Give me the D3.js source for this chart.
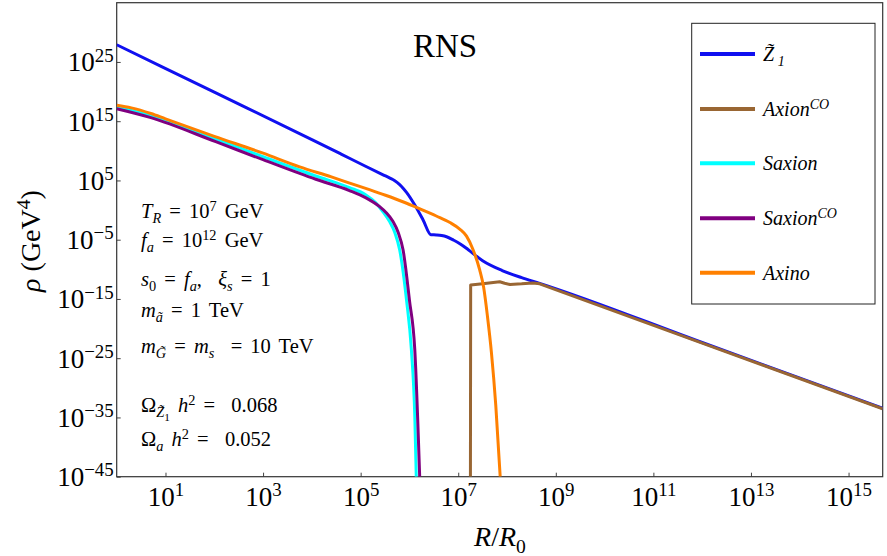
<!DOCTYPE html>
<html>
<head>
<meta charset="utf-8">
<script src="https://cdn.jsdelivr.net/npm/d3@7"></script>
<style>
body { margin: 0; background: #fff; }
svg { display: block; }
text { font-family: "Liberation Serif", "Times New Roman", serif; fill: #000; }
</style>
</head>
<body>
<svg id="chart" width="887" height="556"></svg>
<script>
// values, as log10(R/R0) and log10(rho / GeV^4)
var z1LogR   = [0, 2, 4, 4.6, 5.1, 5.46, 5.6, 5.7, 5.8, 5.87, 5.94, 6.11, 6.28, 6.44, 6.55, 6.66, 6.76, 6.9, 7.05, 7.2, 7.5, 7.9, 8.3, 8.67, 12, 15.7];
var z1LogRho = [27.9, 19.9, 11.9, 9.45, 7.4, 5.95, 5.4, 4.95, 4.3, 3.7, 3.0, 0.86, -1.67, -4.15, -4.2, -4.3, -4.5, -5.05, -5.75, -6.65, -8.55, -10.2, -11.4, -12.36, -22.35, -33.45];

var axionLogR   = [7.25, 7.255, 7.5, 7.85, 7.95, 8.06, 8.3, 8.53, 8.67, 12, 15.7];
var axionLogRho = [-45, -12.65, -12.45, -12.1, -12.35, -12.55, -12.45, -12.3, -12.45, -22.45, -33.55];

var saxionLogR   = [0, 0.7, 2.03, 3, 4.08, 4.77, 5.1, 5.3, 5.45, 5.59, 5.7, 5.8, 5.94, 6.04, 6.11, 6.14];
var saxionLogRho = [17.4, 15.95, 12.0, 9.0, 5.75, 3.8, 2.6, 1.3, -0.2, -1.9, -3.8, -6.74, -15.2, -23.6, -34.9, -45];

var saxionCOLogR   = [0, 0.7, 2.03, 3, 4.08, 4.77, 5.1, 5.39, 5.52, 5.66, 5.77, 5.87, 6.0, 6.11, 6.21];
var saxionCOLogRho = [17.1, 15.6, 11.54, 8.5, 5.2, 3.3, 2.1, 0.57, -0.4, -1.9, -3.8, -6.74, -15.2, -23.6, -45];

var axinoLogR   = [0, 0.3, 0.7, 1, 2, 3, 3.75, 4.4, 4.76, 5.18, 5.51, 5.85, 6.14, 6.55, 6.83, 7.03, 7.17, 7.3, 7.44, 7.52, 7.6, 7.68, 7.77, 7.86];
var axinoLogRho = [17.7, 17.25, 16.3, 15.4, 12.45, 9.6, 7.3, 5.6, 4.6, 3.45, 2.5, 1.45, 0.45, -1.0, -2.1, -3.2, -4.4, -6.6, -10.1, -13.0, -18.0, -24, -33, -45];

var seriesNames  = ["Z1", "AxionCO", "Saxion", "SaxionCO", "Axino"];
var seriesColors = ["#1010f0", "#996633", "#00ffff", "#800080", "#ff8000"];

var xTickExps = [1, 3, 5, 7, 9, 11, 13, 15];
var yTickExps = [-45, -35, -25, -15, -5, 5, 15, 25];

var svg = d3.select("#chart");
var plotL = 116.7, plotR = 882.7, plotT = 2.7, plotB = 476.7;

var x = d3.scaleLog().domain([1, Math.pow(10, 15.7)]).range([plotL, plotR]);
var y = d3.scaleLog().domain([1e-45, 1e35]).range([plotB, plotT]);

// text with sub / superscripts: parts are [text, italic, level]
function richText(sel, parts, size) {
    var shift = 0;
    parts.forEach(function(p) {
        var level = p[2] || 0;
        var target = level == 1 ? -0.36 * size : level == -1 ? 0.25 * size : level == -2 ? 0.45 * size : 0;
        var fs = level == 0 ? size : level == -2 ? size * 0.55 : size * 0.7;
        sel.append("tspan")
            .attr("dy", target - shift)
            .attr("font-size", fs)
            .attr("font-style", p[1] ? "italic" : "normal")
            .text(p[0]);
        shift = target;
    });
}
function expLabel(e) {
    return String(e).replace("-", "\u2212");
}

svg.append("clipPath").attr("id", "plotClip")
    .append("rect").attr("x", plotL).attr("y", plotT).attr("width", plotR - plotL).attr("height", plotB - plotT);

// axes
var xAxis = svg.append("g").attr("transform", "translate(0," + plotB + ")")
    .call(d3.axisBottom(x).tickValues(xTickExps.map(function(e) { return Math.pow(10, e); }))
        .tickSizeInner(-4).tickSizeOuter(0).tickFormat(""));
xAxis.select(".domain").remove();
xAxis.selectAll(".tick line").attr("stroke", "#444");
xAxis.selectAll(".tick text").remove();
xAxis.selectAll(".tick").each(function(d) {
    var t = d3.select(this).append("text").attr("y", 29).attr("text-anchor", "middle");
    richText(t, [["10", false, 0], [expLabel(Math.round(Math.log10(d))), false, 1]], 27);
});

var yAxis = svg.append("g").attr("transform", "translate(" + plotL + ",0)")
    .call(d3.axisLeft(y).tickValues(yTickExps.map(function(e) { return Math.pow(10, e); }))
        .tickSizeInner(-4).tickSizeOuter(0).tickFormat(""));
yAxis.select(".domain").remove();
yAxis.selectAll(".tick line").attr("stroke", "#444");
yAxis.selectAll(".tick text").remove();
yAxis.selectAll(".tick").each(function(d) {
    var t = d3.select(this).append("text").attr("x", -3).attr("y", 9).attr("text-anchor", "end");
    richText(t, [["10", false, 0], [expLabel(Math.round(Math.log10(d))), false, 1]], 27);
});

svg.append("rect")
    .attr("x", plotL).attr("y", plotT).attr("width", plotR - plotL).attr("height", plotB - plotT)
    .attr("fill", "none").attr("stroke", "#333").attr("stroke-width", 1.2);

// curves
var allSeries = [
    [z1LogR, z1LogRho],
    [axionLogR, axionLogRho],
    [saxionLogR, saxionLogRho],
    [saxionCOLogR, saxionCOLogRho],
    [axinoLogR, axinoLogRho]
];
var curves = svg.append("g").attr("clip-path", "url(#plotClip)");
allSeries.forEach(function(s, i) {
    var pts = s[0].map(function(r, j) { return [Math.pow(10, r), Math.pow(10, s[1][j])]; });
    var line = d3.line()
        .x(function(d) { return x(d[0]); })
        .y(function(d) { return y(d[1]); })
        .curve(seriesNames[i] == "AxionCO" ? d3.curveLinear : d3.curveMonotoneX);
    curves.append("path")
        .datum(pts)
        .attr("d", line)
        .attr("fill", "none")
        .attr("stroke", seriesColors[i])
        .attr("stroke-width", 3)
        .attr("stroke-linejoin", "round");
});

// title and axis labels
svg.append("text").attr("x", 445).attr("y", 57).attr("text-anchor", "middle")
    .attr("font-size", 33).text("RNS");

var xl = svg.append("text").attr("x", 500).attr("y", 546).attr("text-anchor", "middle");
richText(xl, [["R", true, 0], ["/", false, 0], ["R", true, 0], ["0", false, -1]], 28);

var yl = svg.append("text").attr("transform", "translate(40,241) rotate(-90)").attr("text-anchor", "middle");
richText(yl, [["\u03c1", true, 0], [" (GeV", false, 0], ["4", false, 1], [")", false, 0]], 28);

// parameter notes
var notes = [
    [218, [["T", true, 0], ["R", true, -1], [" = 10", false, 0], ["7", false, 1], [" GeV", false, 0]]],
    [247, [["f", true, 0], ["a", true, -1], [" = 10", false, 0], ["12", false, 1], [" GeV", false, 0]]],
    [286, [["s", true, 0], ["0", false, -1], [" = ", false, 0], ["f", true, 0], ["a", true, -1], [",  ", false, 0], ["\u03be", true, 0], ["s", true, -1], [" = 1", false, 0]]],
    [317, [["m", true, 0], ["\u00e3", true, -1], [" = 1 TeV", false, 0]]],
    [353, [["m", true, 0], ["G\u0303", true, -1], [" = ", false, 0], ["m", true, 0], ["s", true, -1], ["  = 10 TeV", false, 0]]],
    [412, [["\u03a9", false, 0], ["Z\u0303", true, -1], ["1", false, -2], [" ", false, 0], ["h", true, 0], ["2", false, 1], [" =  0.068", false, 0]]],
    [446, [["\u03a9", false, 0], ["a", true, -1], [" ", false, 0], ["h", true, 0], ["2", false, 1], [" =  0.052", false, 0]]]
];
notes.forEach(function(n) {
    var t = svg.append("text").attr("x", 141).attr("y", n[0])
        .attr("xml:space", "preserve").style("word-spacing", "3px");
    richText(t, n[1], 20.5);
});

// legend
var legendLabels = [
    [["Z\u0303", true, 0], [" 1", true, -1]],
    [["Axion", true, 0], ["CO", true, 1]],
    [["Saxion", true, 0]],
    [["Saxion", true, 0], ["CO", true, 1]],
    [["Axino", true, 0]]
];
var legendY = [54, 109, 163.3, 218.3, 272.7];
var legend = svg.append("g");
legend.append("rect").attr("x", 691.7).attr("y", 23.3).attr("width", 183.3).attr("height", 280.7)
    .attr("fill", "#fff").attr("stroke", "#222").attr("stroke-width", 1);
seriesNames.forEach(function(name, i) {
    legend.append("line")
        .attr("x1", 700).attr("x2", 755).attr("y1", legendY[i]).attr("y2", legendY[i])
        .attr("stroke", seriesColors[i]).attr("stroke-width", 4);
    var t = legend.append("text").attr("x", 763).attr("y", legendY[i] + 7).attr("xml:space", "preserve");
    richText(t, legendLabels[i], 20);
});
</script>
</body>
</html>
